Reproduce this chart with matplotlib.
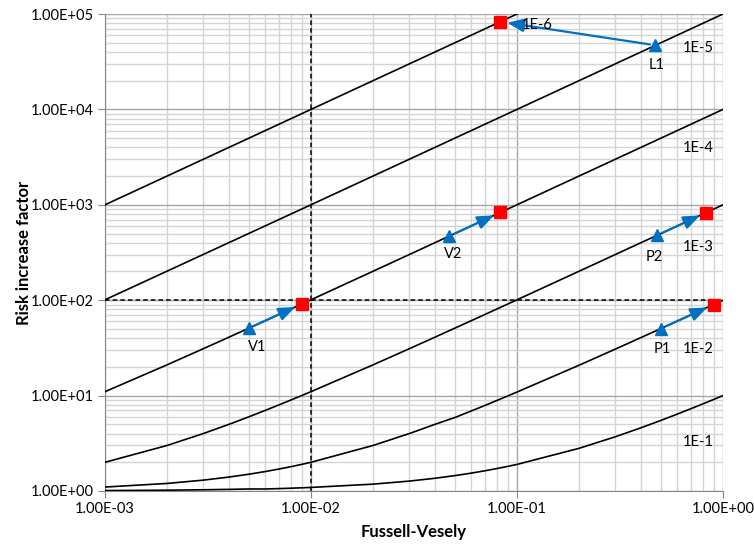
import matplotlib
matplotlib.use("Agg")
import matplotlib.pyplot as plt
from matplotlib.ticker import LogLocator, FuncFormatter, NullFormatter

plt.rcParams['font.family'] = ['Lato', 'DejaVu Sans']

# Fussell-Vesely sample points
x_fv = [0.001, 0.002, 0.003, 0.004, 0.005, 0.006, 0.007, 0.008, 0.009,
        0.01, 0.02, 0.03, 0.04, 0.05, 0.06, 0.07, 0.08, 0.09,
        0.1, 0.2, 0.3, 0.4, 0.5, 0.6, 0.7, 0.8, 0.9, 1.0]

# Straight lines (upper curves)
x_straight = [0.001, 0.01, 0.1, 1.0]
rif_1e6 = [1000, 10000, 100000, 1000000]
rif_1e5 = [101, 1001, 10001, 100000]

rif_1e4 = [11, 21, 31, 41, 51, 61, 71, 81, 91,
           101, 201, 301, 401, 501, 601, 701, 801, 901,
           1001, 2001, 3001, 4001, 5000, 6000, 7000, 8000, 9000, 10000]
rif_1e3 = [2.0, 3.0, 4.0, 5.0, 6.0, 7.0, 8.0, 9.0, 10.0,
           11.0, 21.0, 31.0, 41.0, 51.0, 61.0, 71.0, 81.0, 91.0,
           101, 201, 301, 401, 500, 600, 700, 800, 900, 1000]
rif_1e2 = [1.1, 1.2, 1.3, 1.4, 1.5, 1.6, 1.7, 1.8, 1.9,
           2.0, 3.0, 4.0, 5.0, 5.9, 6.9, 7.9, 8.9, 9.9,
           10.9, 20.8, 30.7, 40.6, 50.5, 60.4, 70.3, 80.2, 90.1, 100]
rif_1e1 = [1.01, 1.02, 1.03, 1.04, 1.05, 1.05, 1.06, 1.07, 1.08,
           1.09, 1.18, 1.27, 1.36, 1.45, 1.54, 1.63, 1.72, 1.81,
           1.9, 2.8, 3.7, 4.6, 5.5, 6.4, 7.3, 8.2, 9.1, 10.0]

curve_labels = ["1E-6", "1E-5", "1E-4", "1E-3", "1E-2", "1E-1"]
curve_label_x = [0.125, 0.76, 0.76, 0.76, 0.76, 0.76]
curve_label_y = [77000, 44000, 3900, 360, 31, 3.3]

# Components: before (triangle) and after (square)
comp_names = ["V1", "V2", "P1", "P2", "L1"]
fv_before = [0.005, 0.047, 0.5, 0.48, 0.47]
rif_before = [51, 471, 50.5, 480, 47000]
fv_after = [0.009, 0.083, 0.9, 0.83, 0.083]
rif_after = [91, 831, 90, 830, 83000]
name_x = [0.0055, 0.049, 0.506, 0.462, 0.478]
name_y = [32, 305, 31, 284, 29200]

x_ticks = [1e-3, 1e-2, 1e-1, 1e0]
y_ticks = [1e0, 1e1, 1e2, 1e3, 1e4, 1e5]

fig = plt.figure(figsize=(7.54, 5.44), dpi=100)
ax = fig.add_axes([105/754, 53/544, 618/754, 477/544])
ax.set_xscale('log')
ax.set_yscale('log')
ax.set_xlim(1e-3, 1)
ax.set_ylim(1, 1e5)

ax.xaxis.set_minor_locator(LogLocator(base=10, subs=range(2, 10), numticks=20))
ax.yaxis.set_minor_locator(LogLocator(base=10, subs=range(2, 10), numticks=20))
ax.set_xticks(x_ticks)
ax.set_yticks(y_ticks)
fmt = FuncFormatter(lambda v, p: "%.2E" % v)
ax.xaxis.set_major_formatter(fmt)
ax.yaxis.set_major_formatter(fmt)
ax.xaxis.set_minor_formatter(NullFormatter())
ax.yaxis.set_minor_formatter(NullFormatter())

ax.grid(True, which='major', color='#A6A6A6', linewidth=1.0, zorder=0)
ax.grid(True, which='minor', color='#D4D4D4', linewidth=1.0, zorder=0)
ax.set_axisbelow(True)
ax.tick_params(which='major', direction='out', length=5, color='#868686',
               labelsize=10.5, pad=3)
ax.tick_params(which='minor', length=0)
for s in ['top', 'right']:
    ax.spines[s].set_visible(False)
for s in ['left', 'bottom']:
    ax.spines[s].set_color('#868686')

lw = 1.2
ax.plot(x_straight, rif_1e6, color='black', lw=lw, zorder=3)
ax.plot(x_straight, rif_1e5, color='black', lw=lw, zorder=3)
for ys in [rif_1e4, rif_1e3, rif_1e2, rif_1e1]:
    ax.plot(x_fv, ys, color='black', lw=lw, zorder=3)

ax.axvline(1e-2, color='black', lw=1.1, ls=(0, (3, 2)), zorder=3)
ax.axhline(1e2, color='black', lw=1.1, ls=(0, (3, 2)), zorder=3)

for lab, lx, ly in zip(curve_labels, curve_label_x, curve_label_y):
    ax.text(lx, ly, lab, fontsize=10.5, ha='center', va='center', zorder=6)

blue = '#0070C0'
for nm, xb, yb, xa, ya, nx, ny in zip(comp_names, fv_before, rif_before,
                                       fv_after, rif_after, name_x, name_y):
    ax.annotate('', xy=(xa, ya), xytext=(xb, yb),
                arrowprops=dict(arrowstyle='-|>,head_length=1.0,head_width=0.4',
                                color=blue, lw=1.6, shrinkA=4, shrinkB=5),
                zorder=5)
    ax.plot([xb], [yb], marker='^', color=blue, markersize=8, ls='none', zorder=6)
    ax.plot([xa], [ya], marker='s', color='#FF0000', markersize=8.5, ls='none', zorder=6)
    ax.text(nx, ny, nm, fontsize=10.5, ha='center', va='center', zorder=6)

ax.set_xlabel('Fussell-Vesely', fontsize=12, fontweight='bold', labelpad=6)
ax.set_ylabel('Risk increase factor', fontsize=12, fontweight='bold', labelpad=-1)

fig.savefig('out.png', dpi=100)
